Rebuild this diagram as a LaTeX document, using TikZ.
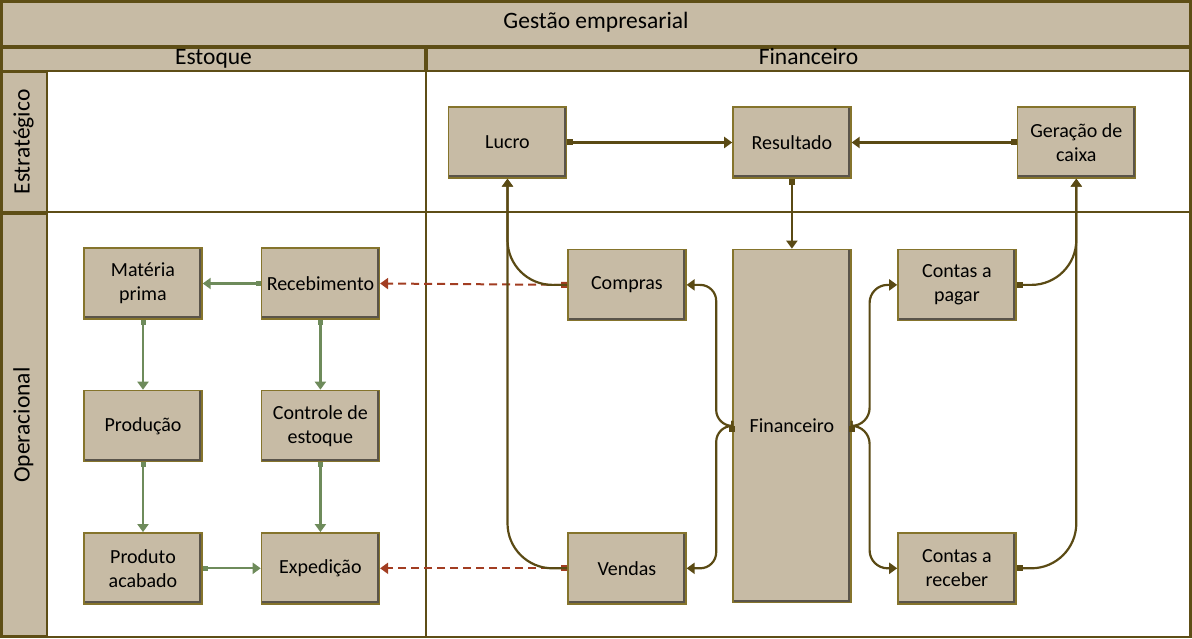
\documentclass[tikz,border=0pt]{standalone}
\usepackage{fontspec}
\setmainfont{Carlito}
\usetikzlibrary{arrows.meta,positioning}
\definecolor{gtan}{HTML}{C7BBA5}
\definecolor{gline}{HTML}{85742C}
\definecolor{gdark}{HTML}{5E4E16}
\definecolor{garrow}{HTML}{5A4A14}
\definecolor{ggreen}{HTML}{6E8B5B}
\definecolor{gred}{HTML}{A23D22}

\begin{document}
\begin{tikzpicture}[
  x=1pt,y=1pt,
  node distance=70pt and 58pt,
  every node/.style={font=\fontsize{20}{24}\selectfont},
  B/.style={draw=gline,line width=1.4pt,fill=gtan,
            minimum width=118pt,minimum height=71pt,
            inner sep=1pt,align=center,
            path picture={\draw[gtan!45!black,line width=3.5pt]
              ([xshift=-1pt]path picture bounding box.north east)
              --([xshift=-1pt,yshift=1pt]path picture bounding box.south east)
              --([yshift=1pt]path picture bounding box.south west);}},
  H/.style={draw=gdark,line width=1.6pt,fill=gtan,inner sep=0pt,
            text height=15pt,text depth=5pt,
            font=\fontsize{23.5}{27}\selectfont},
  ol/.style={-{Triangle[length=8pt,width=11pt]},line width=2.2pt,garrow},
  os/.style={{Square[length=6pt,width=6pt]}-{Triangle[length=8pt,width=11pt]},
             line width=2.2pt,garrow},
  gr/.style={{Square[length=5pt,width=5pt]}-{Triangle[length=8pt,width=11pt]},
             line width=2.2pt,ggreen},
  rd/.style={{Square[length=6pt,width=6pt]}-{Triangle[length=8pt,width=11pt]},
             line width=2pt,gred,dash pattern=on 8pt off 5pt}
]
\useasboundingbox (0,0) rectangle (1192,638);
\draw[gdark,line width=2pt] (1,1) rectangle (1191,637);

% headers
\node[H,minimum width=1188pt,minimum height=44pt] (title) at (596,614)
     {Gestão empresarial};
\node[H,minimum width=423pt,minimum height=23pt] (est) at (213.5,578.5) {Estoque};
\node[H,minimum width=763pt,minimum height=23pt] (fin) at (808.5,578.5) {Financeiro};
\node[H,rotate=90,minimum width=140pt,minimum height=45pt] (estr) at (24.5,496)
     {Estratégico};
\node[H,rotate=90,minimum width=422pt,minimum height=45pt] (oper) at (24.5,213)
     {Operacional};

% lanes
\draw[gdark,line width=2pt] (47,426)--(1190,426);
\draw[gdark,line width=2pt] (426,2)--(426,567);
\draw[gdark,line width=2pt] (1190,2)--(1190,567);

% estoque
\node[B] (MP) at (143,354.5) {Matéria\\prima};
\node[B,right=of MP] (Rec) {Recebimento};
\node[B,below=of MP] (Prod) {Produção};
\node[B,below=of Rec] (Ctrl) {Controle de\\estoque};
\node[B,below=of Prod] (PA) {Produto\\acabado};
\node[B,below=of Ctrl] (Exp) {Expedição};

% financeiro
\node[B] (Lucro) at (507.5,495.5) {Lucro};
\node[B,right=165pt of Lucro] (Res) {Resultado};
\node[B,right=165pt of Res] (Ger) {Geração de\\caixa};
\node[B,below right=70pt and 0pt of Lucro] (Comp) {Compras};
\node[B,below=70pt of Res,minimum height=353pt] (Fin) {Financeiro};
\node[B,below left=70pt and 0pt of Ger] (Pag) {Contas a\\pagar};
\node[B,below=211pt of Comp] (Vend) {Vendas};
\node[B,below=211pt of Pag] (Receb) {Contas a\\receber};

\draw[gr] (Rec)--(MP);
\draw[gr] (MP)--(Prod);
\draw[gr] (Prod)--(PA);
\draw[gr] (Rec)--(Ctrl);
\draw[gr] (Ctrl)--(Exp);
\draw[gr] (PA)--(Exp);

\draw[rd] (Comp.west)--(Rec.east);
\draw[rd] (Vend.west)--(Exp.east);

\draw[os] (Lucro)--(Res);
\draw[os] (Ger)--(Res);
\draw[os] (Res)--(Fin);
\draw[ol,rounded corners=45pt] (Comp.west)-|(Lucro.south);
\draw[ol,rounded corners=45pt] (Vend.west)-|(Lucro.south);
\draw[os,rounded corners=16pt] (Fin.west)--++(-16,0)|-(Comp.east);
\draw[os,rounded corners=16pt] (Fin.west)--++(-16,0)|-(Vend.east);
\draw[os,rounded corners=18pt] (Fin.east)--++(18,0)|-(Pag.west);
\draw[os,rounded corners=18pt] (Fin.east)--++(18,0)|-(Receb.west);
\draw[os,rounded corners=45pt] (Pag.east)-|(Ger.south);
\draw[os,rounded corners=45pt] (Receb.east)-|(Ger.south);
\end{tikzpicture}
\end{document}
